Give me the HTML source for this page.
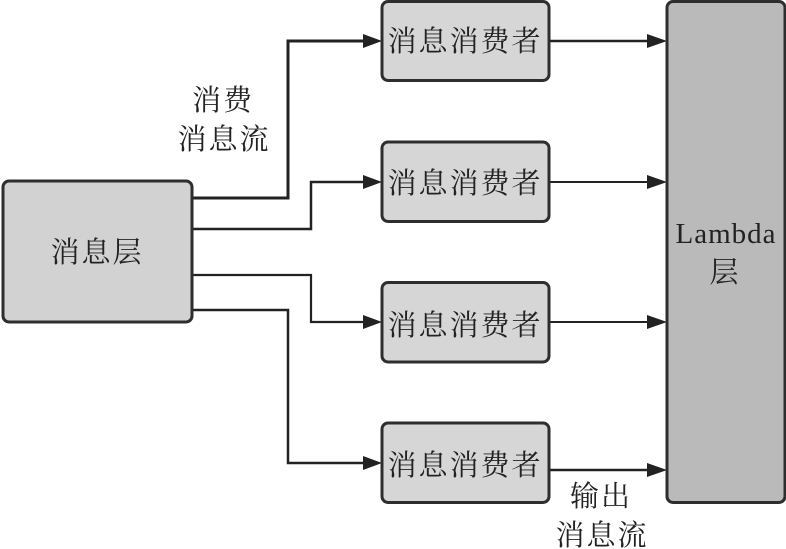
<!DOCTYPE html>
<html lang="zh">
<head>
<meta charset="utf-8">
<style>
html,body{margin:0;padding:0;background:#fff;width:786px;height:549px;overflow:hidden}
svg{display:block}
text{font-family:"Liberation Serif","Noto Serif CJK SC",serif;fill:#222;text-anchor:middle}
.c{font-size:29px;letter-spacing:2px}
.box{stroke:#2e2e2e;stroke-width:3}
.line{fill:none;stroke:#222}
.head{fill:#222}
</style>
</head>
<body>
<svg width="786" height="549" viewBox="0 0 786 549" xmlns="http://www.w3.org/2000/svg">
<rect width="786" height="549" fill="#fff"/>

<path class="line" stroke-width="3" d="M192 198H288V41H366"/>
<path class="line" stroke-width="2.5" d="M192 229H311V182H366"/>
<path class="line" stroke-width="2.2" d="M192 275H311V322H366"/>
<path class="line" stroke-width="2.5" d="M192 310H288V463H366"/>
<path class="line" stroke-width="2.5" d="M549 41H650"/>
<path class="line" stroke-width="2" d="M549 182H650"/>
<path class="line" stroke-width="2" d="M549 322H650"/>
<path class="line" stroke-width="2.5" d="M549 470H650"/>

<path class="head" d="M363 34L382 41L363 48Z"/>
<path class="head" d="M363 175L382 182L363 189Z"/>
<path class="head" d="M363 315L382 322L363 329Z"/>
<path class="head" d="M363 456L382 463L363 470Z"/>
<path class="head" d="M647 34L667 41L647 48Z"/>
<path class="head" d="M647 175L667 182L647 189Z"/>
<path class="head" d="M647 315L667 322L647 329Z"/>
<path class="head" d="M647 463L667 470L647 477Z"/>

<rect class="box" x="3" y="181" width="189" height="141" rx="6" fill="#d2d2d2"/>
<rect class="box" x="382" y="1.500" width="167" height="79" rx="6" fill="#d6d6d6"/>
<rect class="box" x="382" y="142" width="167" height="79.500" rx="6" fill="#d6d6d6"/>
<rect class="box" x="382" y="282.500" width="167" height="79.500" rx="6" fill="#d6d6d6"/>
<rect class="box" x="382" y="423" width="167" height="79.500" rx="6" fill="#d6d6d6"/>
<rect class="box" x="667" y="1.500" width="118" height="501" rx="6" fill="#bababa"/>

<text class="c" x="465" y="51">消息消费者</text>
<text class="c" x="465" y="193">消息消费者</text>
<text class="c" x="465" y="335">消息消费者</text>
<text class="c" x="465" y="475">消息消费者</text>
<text class="c" x="97" y="262">消息层</text>
<text class="c" x="223" y="110">消费</text>
<text class="c" x="224" y="149">消息流</text>
<text class="c" x="601" y="506">输出</text>
<text class="c" x="602" y="545">消息流</text>
<text x="726" y="243" font-size="29" letter-spacing="1">Lambda</text>
<text class="c" x="725" y="282">层</text>
</svg>
</body>
</html>
